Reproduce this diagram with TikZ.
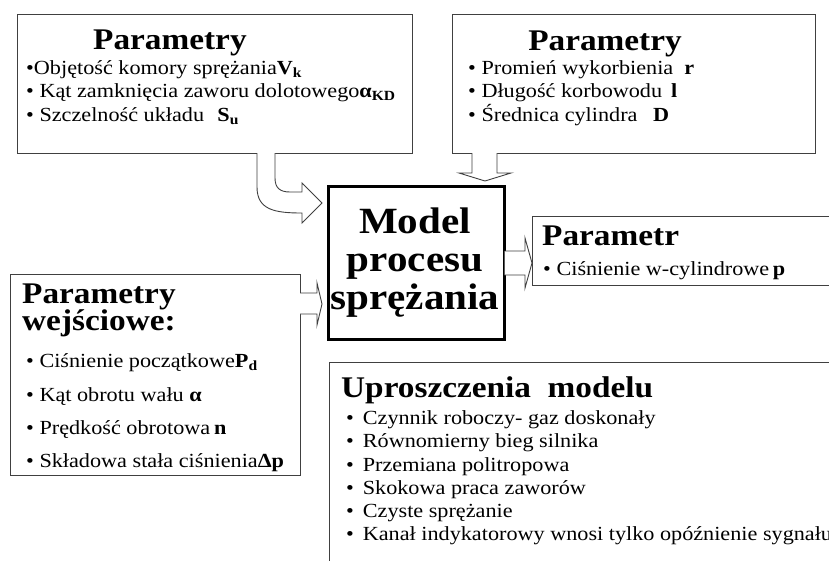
\documentclass[tikz,border=0pt]{standalone}
\usepackage{fontspec}
\setmainfont{Liberation Serif}
\usepackage{graphicx}
\newcommand\sx[1]{\scalebox{1.11}[1]{#1}}
\tikzset{
  box/.style={draw=black!75, line width=0.9pt, inner sep=0pt},
  modelbox/.style={draw=black, line width=3pt, inner sep=0pt},
  txt/.style={anchor=base west, inner sep=0pt, font=\fontsize{20}{24}\selectfont},
  ttl/.style={anchor=base west, inner sep=0pt, font=\fontsize{30}{30}\selectfont\bfseries},
  mtxt/.style={anchor=base, inner sep=0pt, font=\fontsize{37}{38}\selectfont\bfseries},
  blkfill/.style={fill=white, draw=none},
  blkline/.style={draw=black!75, line width=0.9pt, line join=miter},
}
\begin{document}
\begin{tikzpicture}[x=1pt,y=-1pt]
\useasboundingbox (0,0) rectangle (829,560);
\clip (0,0) rectangle (829,560);
\fill[white] (0,0) rectangle (829,560);

% boxes
\node[box, minimum width=395pt, minimum height=139pt, anchor=north west] (b1) at (17,14) {};
\node[box, minimum width=363pt, minimum height=139pt, anchor=north west] (b2) at (452,14) {};
\node[modelbox, minimum width=176pt, minimum height=153pt, anchor=north west] (m) at (327,185) {};
\node[box, minimum width=310pt, minimum height=69pt, anchor=north west] (out) at (532,216) {};
\node[box, minimum width=290pt, minimum height=201pt, anchor=north west] (in) at (10,274) {};
\node[box, minimum width=520pt, minimum height=220pt, anchor=north west] (up) at (329,362) {};

% block arrows
\coordinate (a1) at (257,153);
\coordinate (a2) at (275,153);
\fill[blkfill] (a1) -- (257,187) .. controls (257,210) and (275,213) .. (302,213) -- (302,223) -- (322,203) -- (302,183) -- (302,192) -- (290,192) .. controls (280,192) and (275,188) .. (275,178) -- (a2) -- cycle;
\draw[blkline] (a1) -- (257,187) .. controls (257,210) and (275,213) .. (302,213) -- (302,223) -- (322,203) -- (302,183) -- (302,192) -- (290,192) .. controls (280,192) and (275,188) .. (275,178) -- (a2);

\coordinate (d1) at (472,153);
\coordinate (d2) at (497,153);
\fill[blkfill] (d1) -- (472,173) -- (459,173) -- (485,181) -- (511,173) -- (497,173) -- (d2) -- cycle;
\draw[blkline] (d1) -- (472,173) -- (459,173) -- (485,181) -- (511,173) -- (497,173) -- (d2);

\coordinate (r1) at (504.5,251);
\coordinate (r2) at (504.5,275);
\fill[blkfill] (r1) -- (525,251) -- (525,238) -- (532,263) -- (525,288) -- (525,275) -- (r2) -- cycle;
\draw[blkline] (r1) -- (525,251) -- (525,238) -- (532,263) -- (525,288) -- (525,275) -- (r2);

\coordinate (l1) at (300,293);
\coordinate (l2) at (300,314);
\fill[blkfill] (l1) -- (317,293) -- (317,283) -- (322,304) -- (317,325) -- (317,314) -- (l2) -- cycle;
\draw[blkline] (l1) -- (317,293) -- (317,283) -- (322,304) -- (317,325) -- (317,314) -- (l2);

% box 1 text
\node[ttl] (t1) at (93,49) {\sx{Parametry}};
\node[txt] (t1a) at (26,74) {\sx{•Objętość komory sprężania{\bfseries V\textsubscript{k}}}};
\node[txt] (t1b) at (26,97) {\sx{• Kąt zamknięcia zaworu dolotowego{\bfseries α\textsubscript{KD}}}};
\node[txt] (t1c) at (26,121) {\sx{• Szczelność układu\hspace{12pt}{\bfseries S\textsubscript{u}}}};

% box 2 text
\node[ttl, anchor=base] (t2) at (605,50) {\sx{Parametry}};
\node[txt] (t2a) at (468,74) {\sx{• Promień wykorbienia\hspace{10pt}{\bfseries r}}};
\node[txt] (t2b) at (468,97) {\sx{• Długość korbowodu\hspace{8pt}{\bfseries l}}};
\node[txt] (t2c) at (468,121) {\sx{• Średnica cylindra\hspace{14pt}{\bfseries D}}};

% model text
\node[mtxt] (m1) at (415,233) {\sx{Model}};
\node[mtxt] (m2) at (415,271) {\sx{procesu}};
\node[mtxt] (m3) at (415,309) {\sx{sprężania}};

% output text
\node[ttl] (o1) at (542,245) {\sx{Parametr}};
\node[txt] (o2) at (543,275) {\sx{• Ciśnienie w-cylindrowe\,{\bfseries p}}};

% input text
\node[ttl] (i1) at (22,303) {\sx{Parametry}};
\node[ttl] (i2) at (22,330) {\sx{wejściowe:}};
\node[txt] (i3) at (26,367) {\sx{• Ciśnienie początkowe{\bfseries P\textsubscript{d}}}};
\node[txt] (i4) at (26,401) {\sx{• Kąt obrotu wału {\bfseries α}}};
\node[txt] (i5) at (26,434) {\sx{• Prędkość obrotowa\,{\bfseries n}}};
\node[txt] (i6) at (26,467) {\sx{• Składowa stała ciśnienia{\bfseries Δp}}};

% simplifications text
\node[ttl] (u0) at (341,397) {\sx{Uproszczenia\ \ modelu}};
\node[txt] (u1) at (346,424) {\sx{•\hspace{8pt}Czynnik roboczy- gaz doskonały}};
\node[txt] (u2) at (346,447) {\sx{•\hspace{8pt}Równomierny bieg silnika}};
\node[txt] (u3) at (346,471) {\sx{•\hspace{8pt}Przemiana politropowa}};
\node[txt] (u4) at (346,494) {\sx{•\hspace{8pt}Skokowa praca zaworów}};
\node[txt] (u5) at (346,517) {\sx{•\hspace{8pt}Czyste sprężanie}};
\node[txt] (u6) at (346,540) {\sx{•\hspace{8pt}Kanał indykatorowy wnosi tylko opóźnienie sygnału}};
\end{tikzpicture}
\end{document}
